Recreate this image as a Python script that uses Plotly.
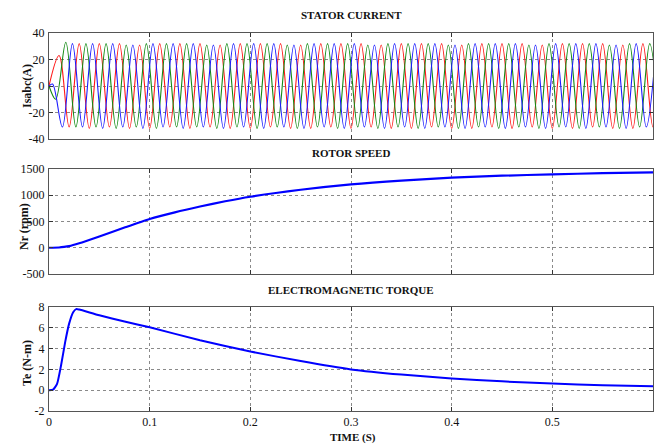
import plotly.graph_objects as go

# ---------------- data ----------------
# Stator currents: successive extreme values (peaks / troughs) of each phase
HALF_PERIOD = 0.01  # s, half cycle at 50 Hz
ia_first_t = 0.0
ia_ext = [0, 23, -31, 32, -32, 32, -31, 32, -32, 31, -32, 32, -31, 32, -32, 32,
          -31, 31, -32, 32, -32, 32, -31, 32, -32, 31, -32, 32, -31, 32, -32, 32,
          -31, 31, -32, 32, -32, 32, -31, 32, -32, 31, -32, 32, -31, 32, -32, 32,
          -31, 31, -32, 32, -32, 32, -31, 32, -32, 31, -32, 32, -31, 32]
ic_start_t = [0.0]
ic_start_v = [0]
ic_first_t = 0.0067
ic_ext = [-10, 33, -31, 32, -31, 32, -32, 31, -31, 32, -32, 32, -31, 32, -31, 31,
          -32, 32, -31, 32, -32, 32, -31, 31, -32, 32, -31, 32, -32, 32, -31, 31,
          -32, 32, -31, 32, -32, 32, -31, 31, -32, 32, -31, 32, -32, 32, -31, 31,
          -32, 32, -31, 32, -32, 32, -31, 31, -32, 32, -31, 32, -32]
ib_start_t = [0.0, 0.0035]
ib_start_v = [0, 1.5]
ib_first_t = 0.0133
ib_ext = [-31, 32, -31, 32, -32, 32, -31, 31, -32, 32, -31, 32, -32, 32, -31, 31,
          -32, 32, -31, 32, -32, 32, -31, 31, -32, 32, -31, 32, -32, 32, -31, 31,
          -32, 32, -31, 32, -32, 32, -31, 31, -32, 32, -31, 32, -32, 32, -31, 31,
          -32, 32, -31, 32, -32, 32, -31, 31, -32, 32, -31, 32]

# Rotor speed (rpm)
t_speed = [0, 0.01, 0.015, 0.02, 0.03, 0.05, 0.075, 0.1, 0.125, 0.15, 0.175,
           0.2, 0.25, 0.3, 0.35, 0.4, 0.45, 0.5, 0.55, 0.6]
speed = [0, 5, 15, 30, 85, 215, 385, 548, 675, 785, 885,
         972, 1105, 1208, 1280, 1334, 1372, 1399, 1420, 1437]

# Electromagnetic torque (N-m)
t_torque = [0, 0.004, 0.008, 0.012, 0.016, 0.02, 0.024, 0.027, 0.03, 0.05, 0.075,
            0.1, 0.15, 0.2, 0.25, 0.3, 0.35, 0.4, 0.45, 0.5, 0.55, 0.6]
torque = [0, 0.05, 0.6, 2.4, 4.6, 6.4, 7.5, 7.8, 7.75, 7.2, 6.6,
          6.05, 4.8, 3.72, 2.8, 2.0, 1.5, 1.13, 0.85, 0.64, 0.48, 0.39]

x_ticks = [0, 0.1, 0.2, 0.3, 0.4, 0.5]
x_ticktext = ["0", "0.1", "0.2", "0.3", "0.4", "0.5"]
y1_ticks = [-40, -20, 0, 20, 40]
y2_ticks = [-500, 0, 500, 1000, 1500]
y3_ticks = [-2, 0, 2, 4, 6, 8]

titles = ["STATOR CURRENT", "ROTOR SPEED", "ELECTROMAGNETIC TORQUE"]
ytitles = ["Isabc(A)", "Nr (rpm)", "Te (N-m)"]
xtitle = "TIME (S)"


def ext_times(first, n):
    return [first + k * HALF_PERIOD for k in range(n)]


ta = ext_times(ia_first_t, len(ia_ext))
tc = ic_start_t + ext_times(ic_first_t, len(ic_ext))
vc = ic_start_v + ic_ext
tb = ib_start_t + ext_times(ib_first_t, len(ib_ext))
vb = ib_start_v + ib_ext

# ---------------- figure ----------------
W, H = 654, 445
L, R = 49, 1
PW = W - L - R
fig = go.Figure()

line_kw = dict(shape="spline", smoothing=1.0, width=1.1)
fig.add_trace(go.Scatter(x=ta, y=ia_ext, mode="lines", line=dict(color="#ff1a1a", **line_kw),
                         xaxis="x", yaxis="y", showlegend=False))
fig.add_trace(go.Scatter(x=tc, y=vc, mode="lines", line=dict(color="#138a13", **line_kw),
                         xaxis="x", yaxis="y", showlegend=False))
fig.add_trace(go.Scatter(x=tb, y=vb, mode="lines", line=dict(color="#1a1aff", **line_kw),
                         xaxis="x", yaxis="y", showlegend=False))
fig.add_trace(go.Scatter(x=t_speed, y=speed, mode="lines",
                         line=dict(color="#0000ff", width=2.2, shape="spline", smoothing=0.6),
                         xaxis="x2", yaxis="y2", showlegend=False))
fig.add_trace(go.Scatter(x=t_torque, y=torque, mode="lines",
                         line=dict(color="#0000ff", width=2.0, shape="spline", smoothing=0.5),
                         xaxis="x3", yaxis="y3", showlegend=False))


def ypx(a, b):
    return [1 - b / H, 1 - a / H]


def px_x(p):
    return (p - L) / PW


panels = [(33, 139), (169, 274), (307, 411)]
serif = "Liberation Serif"
axis_common = dict(showline=True, linecolor="#555555", linewidth=1, mirror="ticks",
                   ticks="inside", ticklen=4, tickcolor="#333333", automargin=False,
                   showgrid=True, gridcolor="#8a8a8a", griddash="dot", gridwidth=1,
                   zeroline=False, tickfont=dict(family=serif, size=12, color="#111111"))

yranges = [[-40, 40], [-500, 1500], [-2, 8]]
yticks = [y1_ticks, y2_ticks, y3_ticks]
for i in range(3):
    sfx = "" if i == 0 else str(i + 1)
    xa = dict(axis_common, domain=[0, 1], range=[0, 0.6], tickvals=x_ticks, ticktext=x_ticktext,
              showticklabels=(i == 2), anchor="y" + sfx)
    ya = dict(axis_common, domain=ypx(*panels[i]), range=yranges[i], tickvals=yticks[i],
              ticktext=[str(v) for v in yticks[i]],
              ticklabelstandoff=1, anchor="x" + sfx)
    fig.update_layout(**{"xaxis" + sfx: xa, "yaxis" + sfx: ya})

title_y = [15, 153, 290]
for txt, yp in zip(titles, title_y):
    fig.add_annotation(text="<b>" + txt + "</b>", xref="paper", yref="paper",
                       x=px_x(351), y=1 - yp / H, xanchor="center", yanchor="middle",
                       showarrow=False, font=dict(family=serif, size=11, color="#111"))

ytitle_pos = [(27, 86), (24, 226), (27, 363)]
for txt, (xp, yp) in zip(ytitles, ytitle_pos):
    fig.add_annotation(text="<b>" + txt + "</b>", xref="paper", yref="paper",
                       x=px_x(xp), y=1 - yp / H, xanchor="center", yanchor="middle",
                       textangle=-90, showarrow=False,
                       font=dict(family=serif, size=12, color="#111"))

fig.add_annotation(text="<b>" + xtitle + "</b>", xref="paper", yref="paper",
                   x=px_x(353), y=1 - 437 / H, xanchor="center", yanchor="middle",
                   showarrow=False, font=dict(family=serif, size=11, color="#111"))

fig.update_layout(width=W, height=H, margin=dict(l=L, r=R, t=0, b=0, autoexpand=False),
                  paper_bgcolor="white", plot_bgcolor="white")

fig.write_html("out.html")
